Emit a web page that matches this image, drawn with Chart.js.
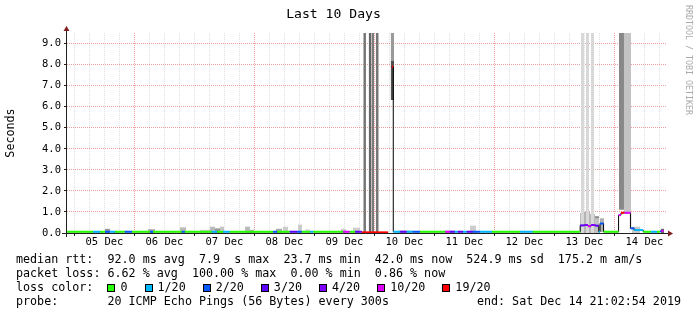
<!DOCTYPE html>
<html>
<head>
<meta charset="utf-8">
<script src="https://cdn.jsdelivr.net/npm/chart.js@4.4.1/dist/chart.umd.min.js"></script>
<style>
  html, body { margin: 0; padding: 0; background: #fff; }
  #wrap { position: relative; width: 697px; height: 315px; overflow: hidden; font-family: 'DejaVu Sans Mono', monospace; }
  #wrap canvas { position: absolute; left: 0; top: 0; }
  .leg { position: absolute; left: 16px; font-size: 11.7px; line-height: 14px; white-space: pre; color: #000; }
  .box { display: inline-block; width: 6px; height: 6px; border: 1px solid #000; margin-right: 5px; vertical-align: -1px; }
  .item { margin-right: 17px; }
  #end { position: absolute; right: 16px; font-size: 11.7px; line-height: 14px; white-space: pre; }
  #mark { position: absolute; left: 684px; top: 5px; font-size: 8.3px; color: #aaa; writing-mode: vertical-rl; white-space: pre; }
</style>
</head>
<body>
<div id="wrap">
  <canvas id="chart" width="697" height="315"></canvas>
  <div id="mark">RRDTOOL / TOBI OETIKER</div>
  <div class="leg" id="leg1" style="top:252px"></div>
  <div class="leg" id="leg2" style="top:266px"></div>
  <div class="leg" id="leg3" style="top:280px"></div>
  <div class="leg" id="leg4" style="top:294px"></div>
  <div id="end" style="top:294px"></div>
</div>
<script>
// x values are days of December 2019; the window ends Sat Dec 14 21:02:54
const rangeStart = 4 + (21 + 2 / 60 + 54 / 3600) / 24;
const rangeEnd = rangeStart + 10;

const labelDays = [5, 6, 7, 8, 9, 10, 11, 12, 13, 14];
const dayLabels = ['05 Dec', '06 Dec', '07 Dec', '08 Dec', '09 Dec', '10 Dec', '11 Dec', '12 Dec', '13 Dec', '14 Dec'];

const lossLabels = ['0', '1/20', '2/20', '3/20', '4/20', '10/20', '19/20'];
const lossColors = ['#26ff00', '#00b8ff', '#0059ff', '#5e00ff', '#7e00ff', '#dd00ff', '#ff0000'];

// median rtt (s), step changes; loss = index into lossColors, -1 = no median
const medianTime = [4.877, 5.31, 5.43, 5.51, 5.59, 5.68, 5.84, 5.96, 6.26, 6.31, 6.79, 6.84, 7.29, 7.38, 7.48, 7.59,
  8.31, 8.38, 8.59, 8.71, 8.79, 8.93, 8.98, 9.48, 9.59, 9.68, 9.79, 10.23, 10.29, 10.315, 10.43, 10.54, 10.64, 10.76,
  11.18, 11.26, 11.34, 11.39, 11.48, 11.54, 11.64, 11.76, 11.96, 12.43, 12.64, 13.43, 13.5, 13.56, 13.61, 13.68, 13.74,
  13.76, 13.82, 14.07, 14.11, 14.17, 14.27, 14.33, 14.48, 14.61, 14.71, 14.76, 14.78, 14.82];
const medianValue = [0.06, 0.06, 0.06, 0.06, 0.06, 0.06, 0.06, 0.06, 0.06, 0.06, 0.06, 0.06, 0.06, 0.06, 0.06, 0.06,
  0.06, 0.06, 0.06, 0.06, 0.06, 0.06, 0.06, 0.06, 0.06, 0.06, 0.03, null, 7.9, 0.06, 0.06, 0.06, 0.06, 0.06,
  0.06, 0.06, 0.06, 0.06, 0.06, 0.06, 0.06, 0.06, 0.06, 0.06, 0.06, 0.36, 0.38, 0.32, 0.38, 0.35, 0.06,
  0.45, 0.06, 0.85, 0.96, 0.96, 0.22, 0.14, 0.06, 0.06, 0.06, 0.08, 0.1, null];
const medianLoss = [0, 1, 0, 2, 1, 0, 2, 0, 2, 0, 2, 0, 1, 0, 1, 0,
  2, 0, 3, 2, 0, 1, 0, 5, 0, 3, 6, -1, 6, 1, 3, 1, 2, 0,
  5, 3, 1, 3, 1, 3, 2, 1, 0, 1, 0, 3, 4, 5, 4, 3, 1,
  2, 0, 5, 6, 5, 2, 1, 0, 1, 0, 2, 5, -1];

// smoke (ping spread) blocks
const smokeFrom = [9.815, 9.905, 9.952, 10.022, 10.272, 10.272,
  13.444, 13.527, 13.610, 13.427, 13.494, 13.594, 13.677, 13.427, 13.427, 13.427, 13.76, 13.76,
  14.077, 14.16, 14.294, 14.34,
  5.227, 5.51, 5.644, 6.227, 6.76, 7.094, 7.26, 7.344, 7.427, 7.844, 7.927, 8.36, 8.477, 8.727, 8.844,
  9.444, 9.644, 10.394, 11.177, 11.594, 14.777];
const smokeTo = [9.86, 9.952, 9.994, 10.072, 10.327, 10.327,
  13.494, 13.577, 13.660, 13.494, 13.594, 13.677, 13.744, 13.744, 13.744, 13.744, 13.827, 13.827,
  14.16, 14.277, 14.427, 14.39,
  5.477, 5.594, 5.727, 6.344, 6.86, 7.26, 7.344, 7.427, 7.494, 7.927, 7.994, 8.46, 8.56, 8.794, 8.927,
  9.527, 9.76, 10.644, 11.344, 11.694, 14.827];
const smokeLow = [0, 0, 0, 0, 8.17, 6.32,
  0, 0, 0, 0, 0, 0, 0, 0.05, 0.15, 0.25, 0.05, 0.2,
  1.1, 1.0, 0, 0.1,
  0, 0, 0, 0, 0, 0, 0, 0, 0, 0, 0, 0, 0, 0, 0,
  0, 0, 0, 0, 0, 0];
const smokeHigh = [9.5, 9.5, 9.5, 9.5, 9.5, 8.17,
  9.5, 9.5, 9.5, 0.95, 1.0, 0.9, 0.7, 0.8, 0.6, 0.47, 0.7, 0.55,
  9.5, 9.5, 0.3, 0.25,
  0.07, 0.2, 0.08, 0.18, 0.27, 0.15, 0.3, 0.22, 0.3, 0.3, 0.15, 0.2, 0.3, 0.4, 0.18,
  0.2, 0.25, 0.12, 0.12, 0.35, 0.2];
const smokeTone = ['#767676', '#666666', '#7c7c7c', '#767676', '#9a9a9a', '#505050',
  '#d8d8d8', '#d8d8d8', '#d8d8d8', '#bdbdbd', '#b4b4b4', '#bababa', '#c2c2c2', '#8f8f8f', '#626262', '#3a3a3a', '#b0b0b0', '#7a7a7a',
  '#888888', '#c3c3c3', '#c8c8c8', '#999999',
  '#dcdcdc', '#9a9a9a', '#cccccc', '#aaaaaa', '#bbbbbb', '#cccccc', '#bbbbbb', '#999999', '#c4c4c4', '#bbbbbb', '#aaaaaa', '#aaaaaa', '#cccccc', '#cccccc', '#dddddd',
  '#cccccc', '#cccccc', '#cccccc', '#cccccc', '#cccccc', '#666666'];

const legendRtt = 'median rtt:  92.0 ms avg  7.9  s max  23.7 ms min  42.0 ms now  524.9 ms sd  175.2 m am/s';
const legendLoss = 'packet loss: 6.62 % avg  100.00 % max  0.00 % min  0.86 % now';
const legendProbe = 'probe:       20 ICMP Echo Pings (56 Bytes) every 300s';
const legendEnd = 'end: Sat Dec 14 21:02:54 2019';

const MONO = "'DejaVu Sans Mono', monospace";

function $(sel) {
  return document.querySelector(sel);
}

function buildLegend() {
  $('#leg1').textContent = legendRtt;
  $('#leg2').textContent = legendLoss;
  $('#leg4').textContent = legendProbe;
  $('#end').textContent = legendEnd;
  const l3 = $('#leg3');
  l3.appendChild(document.createTextNode('loss color:  '));
  lossLabels.forEach((lab, i) => {
    const b = document.createElement('span');
    b.className = 'box';
    b.style.background = lossColors[i];
    const t = document.createElement('span');
    t.className = 'item';
    t.textContent = lab;
    l3.appendChild(b);
    l3.appendChild(t);
  });
}

function smokeDatasets() {
  return smokeFrom.map((from, i) => ({
    data: [{ x: from, y: smokeHigh[i] }, { x: smokeTo[i], y: smokeHigh[i] }],
    borderWidth: 0,
    borderColor: 'transparent',
    backgroundColor: smokeTone[i],
    fill: { value: smokeLow[i] },
    pointRadius: 0,
    order: 5,
  }));
}

function medianDatasets() {
  const black = medianTime.map((t, i) => ({ x: t, y: medianValue[i] }));
  const colored = [];
  for (let i = 0; i < medianTime.length - 1; i++) {
    if (medianValue[i] == null || medianLoss[i] < 0) continue;
    const c = lossColors[medianLoss[i]];
    colored.push({ x: medianTime[i], y: medianValue[i], c });
    colored.push({ x: medianTime[i + 1], y: medianValue[i], c });
    colored.push({ x: medianTime[i + 1], y: null, c });
  }
  return [
    {
      // value holds until the next change point
      data: black,
      stepped: 'before',
      borderColor: '#000000',
      borderWidth: 1,
      pointRadius: 0,
      fill: false,
      spanGaps: false,
      order: 2,
    },
    {
      data: colored,
      borderWidth: 2,
      pointRadius: 0,
      fill: false,
      spanGaps: false,
      order: 1,
      segment: {
        borderColor: (ctx) => colored[ctx.p0DataIndex].c,
      },
    },
  ];
}

const axisArrows = {
  id: 'axisArrows',
  afterDatasetsDraw(chart) {
    const { ctx, chartArea: a } = chart;
    const x0 = a.left - 0.5;
    const y0 = a.bottom + 0.5;
    ctx.save();
    ctx.strokeStyle = '#1f1f1f';
    ctx.lineWidth = 1;
    ctx.beginPath();
    ctx.moveTo(a.left - 5, y0);
    ctx.lineTo(a.right + 2, y0);
    ctx.moveTo(x0, a.bottom + 4);
    ctx.lineTo(x0, a.top - 2);
    ctx.stroke();
    ctx.fillStyle = '#7f1f1f';
    ctx.beginPath();
    ctx.moveTo(a.right + 6, y0);
    ctx.lineTo(a.right + 1, y0 - 3);
    ctx.lineTo(a.right + 1, y0 + 3);
    ctx.closePath();
    ctx.fill();
    ctx.beginPath();
    ctx.moveTo(x0, a.top - 7);
    ctx.lineTo(x0 - 3, a.top - 2);
    ctx.lineTo(x0 + 3, a.top - 2);
    ctx.closePath();
    ctx.fill();
    ctx.restore();
  },
};

const minorGrid = 'rgba(143,143,143,0.28)';
const majorGrid = 'rgba(222,80,80,0.55)';

function init() {
  buildLegend();
  const ctx = $('#chart').getContext('2d');
  new Chart(ctx, {
    type: 'line',
    data: { datasets: [...smokeDatasets(), ...medianDatasets()] },
    plugins: [axisArrows],
    options: {
      responsive: false,
      animation: false,
      events: [],
      devicePixelRatio: 1,
      layout: { padding: { left: 0, right: 30, top: 0, bottom: 0 } },
      plugins: {
        legend: { display: false },
        tooltip: { enabled: false },
        title: {
          display: true,
          text: 'Last 10 Days',
          color: '#000',
          font: { family: MONO, size: 13.1, weight: 'normal', lineHeight: '15px' },
          padding: { top: 7, bottom: 11 },
        },
      },
      scales: {
        x: {
          type: 'linear',
          min: rangeStart,
          max: rangeEnd,
          afterFit: (scale) => { scale.height = 82; },
          afterBuildTicks: (scale) => {
            const ticks = [];
            for (let d = 5; d < rangeEnd; d += 0.25) ticks.push({ value: d });
            scale.ticks = ticks;
          },
          grid: {
            color: (c) => (c.tick && Number.isInteger(c.tick.value) && c.tick.value % 2 === 0 ? majorGrid : minorGrid),
            lineWidth: 1,
            tickLength: 3,
            tickColor: (c) => (c.tick && Number.isInteger(c.tick.value) ? '#1f1f1f' : 'transparent'),
          },
          border: { display: false, dash: [1, 1] },
          ticks: {
            autoSkip: false,
            maxRotation: 0,
            padding: 0,
            color: '#000',
            font: { family: MONO, size: 10.5 },
            callback: (v) => {
              const i = labelDays.indexOf(Math.floor(v));
              return Math.abs((v % 1) - 0.5) < 1e-6 && i >= 0 ? dayLabels[i] : '';
            },
          },
        },
        y: {
          min: 0,
          max: 9.5,
          afterFit: (scale) => { scale.width = 67; },
          grid: {
            color: (c) => (c.tick && Number.isInteger(c.tick.value) ? majorGrid : minorGrid),
            lineWidth: 1,
            tickLength: 3,
            tickColor: (c) => (c.tick && Number.isInteger(c.tick.value) ? '#1f1f1f' : 'transparent'),
          },
          border: { display: false, dash: [1, 1] },
          title: {
            display: true,
            text: 'Seconds',
            color: '#000',
            font: { family: MONO, size: 11.7 },
            padding: { top: 4, bottom: 0 },
          },
          ticks: {
            stepSize: 0.5,
            padding: 3,
            color: '#000',
            font: { family: MONO, size: 10.5 },
            callback: (v) => (Number.isInteger(v) ? v.toFixed(1) : ''),
          },
        },
      },
    },
  });
}

init();
</script>
</body>
</html>
